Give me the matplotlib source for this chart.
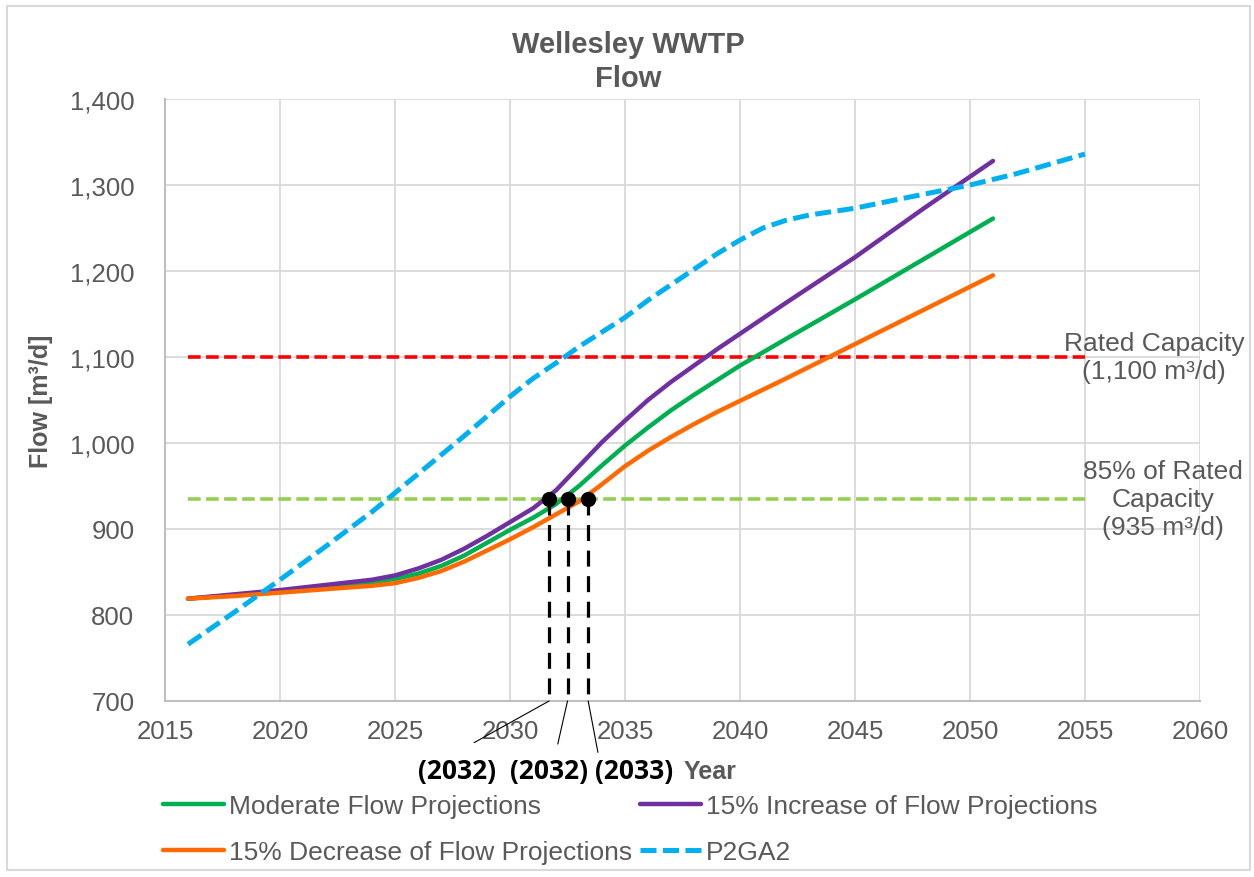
import matplotlib.pyplot as plt
import matplotlib.patches as patches
from matplotlib.ticker import FuncFormatter

plt.rcParams['font.family'] = ['Liberation Sans', 'DejaVu Sans']

# projection years and flows (m3/d)
years = [2016, 2018, 2020, 2022, 2024, 2025, 2026, 2027, 2028, 2029, 2030, 2031,
         2032, 2033, 2034, 2035, 2036, 2037, 2038, 2039, 2040, 2042, 2045, 2048, 2051]
moderate = [819, 823, 828, 833, 838, 842, 848, 857, 869, 884, 899, 913,
            929, 950, 974, 997, 1018, 1038, 1056, 1073, 1090, 1121, 1167, 1214, 1261]
increase = [819, 824, 829, 835, 841, 846, 854, 864, 877, 892, 908, 924,
            945, 973, 1001, 1026, 1050, 1071, 1090, 1109, 1127, 1163, 1216, 1273, 1328]
decrease = [819, 822, 826, 830, 834, 837, 843, 851, 862, 875, 888, 902,
            917, 932, 952, 973, 991, 1007, 1022, 1036, 1049, 1075, 1115, 1155, 1195]

p2ga2_years = [2016, 2018, 2020, 2022, 2024, 2026, 2028, 2030, 2031, 2032, 2033, 2034, 2035,
               2036, 2037, 2038, 2039, 2040, 2041, 2042, 2043, 2045, 2047, 2050, 2052, 2055]
p2ga2 = [766, 803, 841, 880, 920, 964, 1008, 1054, 1075, 1093, 1112, 1129, 1146,
         1166, 1184, 1202, 1220, 1236, 1250, 1259, 1265, 1273, 1284, 1300, 1313, 1336]

cap_years = [2016, 2055]
rated_cap = 1100
cap_85 = 935

cross_years = [2031.7, 2032.5, 2033.4]
cross_labels = ['(2032)', '(2032)', '(2033)']

grey = '#595959'

fig = plt.figure(figsize=(12.54, 8.78), dpi=100)
ax = fig.add_axes([165 / 1254, 1 - 702 / 878, 1035 / 1254, 602 / 878])

# chart border
fig.patches.append(patches.Rectangle((7 / 1254, 7 / 878), 1243 / 1254, 864 / 878,
                                     transform=fig.transFigure, fill=False,
                                     edgecolor='#d9d9d9', lw=1.5))

ax.plot(cap_years, [rated_cap] * 2, color='#ff0000', lw=2.6, dashes=(3.5, 1.5))
ax.plot(cap_years, [cap_85] * 2, color='#92d050', lw=2.6, dashes=(3.5, 1.5))

l_mod, = ax.plot(years, moderate, color='#00b050', lw=3.2, solid_capstyle='round',
                 solid_joinstyle='round', label='Moderate Flow Projections')
l_inc, = ax.plot(years, increase, color='#7030a0', lw=3.2, solid_capstyle='round',
                 solid_joinstyle='round', label='15% Increase of Flow Projections')
l_dec, = ax.plot(years, decrease, color='#ff6a00', lw=3.2, solid_capstyle='round',
                 solid_joinstyle='round', label='15% Decrease of Flow Projections')
l_p2, = ax.plot(p2ga2_years, p2ga2, color='#00b0f0', lw=3.6, dashes=(3.2, 1.3),
                label='P2GA2')

# crossing markers with drop lines
offsets = [(-66, -50), (-13, -50), (33, -50)]
leaders = [(-54, -30), (-7, -31), (7, -37)]
for yr, lab, off, lead in zip(cross_years, cross_labels, offsets, leaders):
    ax.plot([yr, yr], [cap_85, 700], color='black', lw=2.3, dashes=(5, 3), zorder=5)
    ax.plot(yr, cap_85, 'o', color='black', ms=10, zorder=6)
    ax.annotate('', xy=(yr, 700), xytext=lead, textcoords='offset points',
                arrowprops=dict(arrowstyle='-', lw=0.8, color='black', shrinkA=0, shrinkB=0),
                annotation_clip=False)
    ax.annotate(lab, xy=(yr, 700), xytext=off, textcoords='offset points',
                ha='center', va='center', fontsize=19, fontweight='bold',
                family=['Open Sans', 'DejaVu Sans'], color='black', annotation_clip=False)

ax.text(2058.0, rated_cap, 'Rated Capacity\n(1,100 m³/d)', ha='center', va='center',
        fontsize=19, color=grey, linespacing=1.25, clip_on=False)
ax.text(2058.4, cap_85, '85% of Rated\nCapacity\n(935 m³/d)', ha='center', va='center',
        fontsize=19, color=grey, linespacing=1.2, clip_on=False)

ax.set_xlim(2015, 2060)
ax.set_ylim(700, 1400)
ax.set_xticks(range(2015, 2061, 5))
ax.set_yticks(range(700, 1401, 100))
ax.yaxis.set_major_formatter(FuncFormatter(lambda v, p: f'{v:,.0f}'))
ax.tick_params(length=0, labelsize=18.5, labelcolor=grey)
ax.tick_params(axis='x', pad=13)
ax.tick_params(axis='y', pad=22)
ax.grid(True, color='#d9d9d9', lw=1.3)
ax.set_axisbelow(True)
for s in ['top', 'right']:
    ax.spines[s].set_visible(False)
for s in ['left', 'bottom']:
    ax.spines[s].set_color('#bfbfbf')
    ax.spines[s].set_linewidth(1.5)

ax.set_ylabel('Flow [m³/d]', fontsize=18, fontweight='bold', color=grey)
ax.yaxis.set_label_coords(-0.108, 0.5)
ax.set_xlabel('Year', fontsize=18, fontweight='bold', color=grey, va='center')
ax.xaxis.set_label_coords(0.5266, -0.1163)

fig.text(628 / 1254, 1 - 62 / 878, 'Wellesley WWTP\nFlow', ha='center', va='center',
         fontsize=21, fontweight='bold', color=grey, linespacing=1.3)

fig.legend(handles=[l_mod, l_dec, l_inc, l_p2], loc='upper left', ncol=2,
           bbox_to_anchor=(163 / 1254, 1 - 795 / 878), frameon=False, fontsize=19,
           labelcolor=grey, handlelength=2.3, handletextpad=0.2, columnspacing=0.3,
           labelspacing=0.85, borderpad=0, borderaxespad=0)

fig.savefig('out.png', dpi=100)
